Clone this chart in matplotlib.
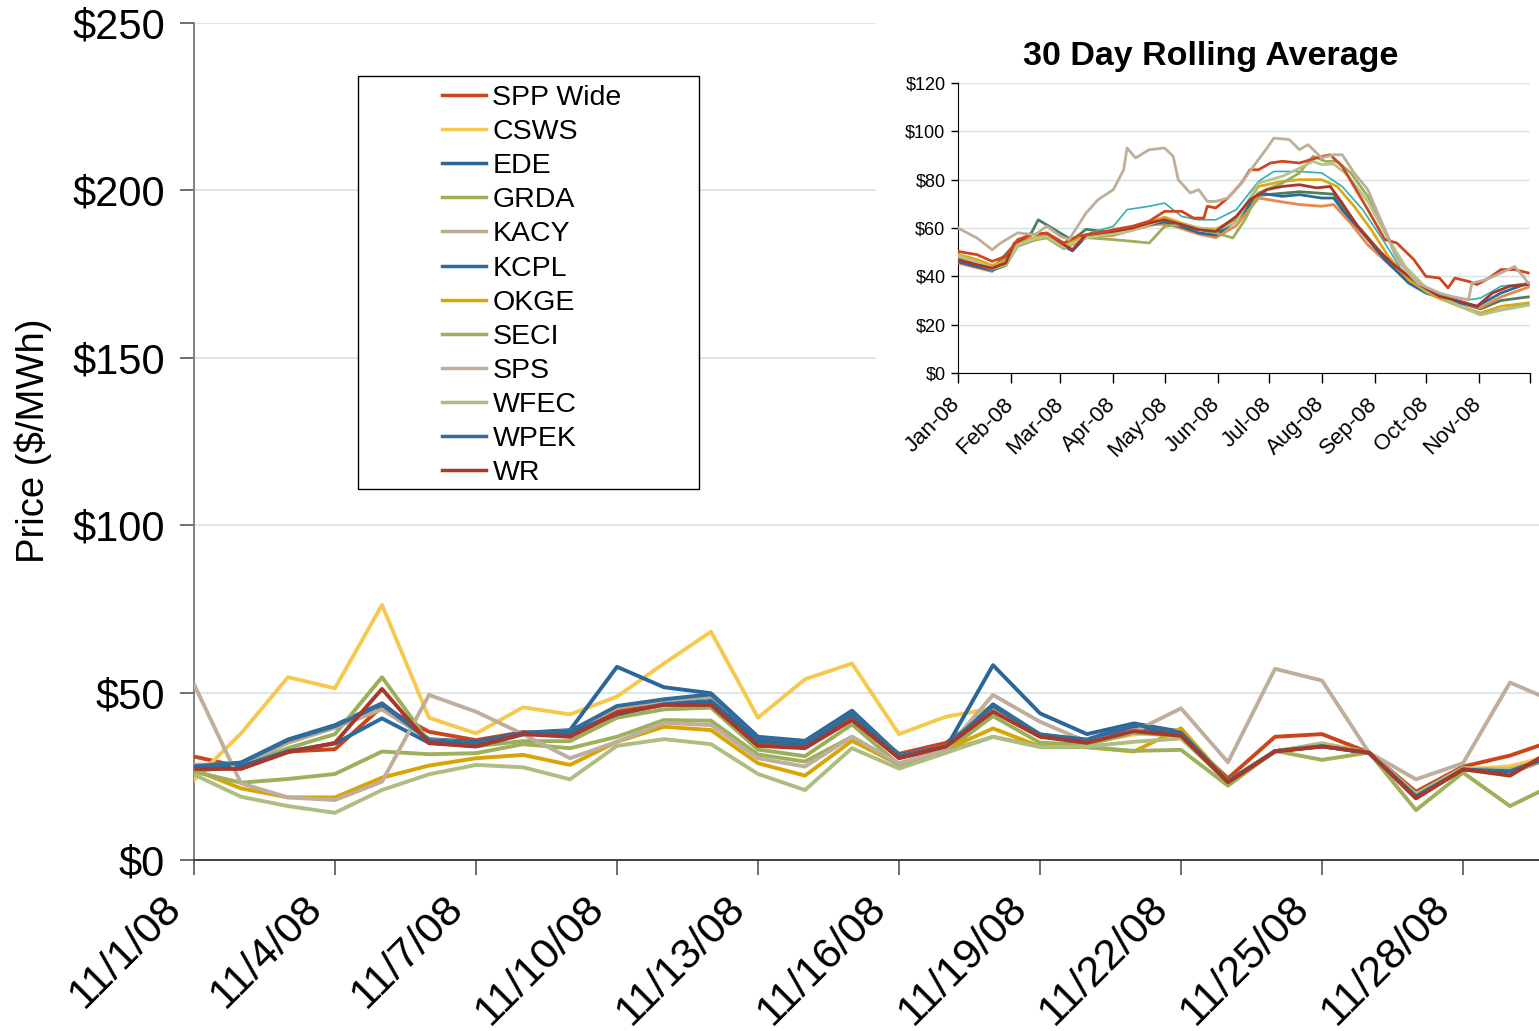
import matplotlib
matplotlib.use("Agg")
import matplotlib.pyplot as plt
from matplotlib.patches import Rectangle
from matplotlib.transforms import ScaledTranslation

plt.rcParams['font.family'] = ['Liberation Sans', 'DejaVu Sans']

# ---------------- main chart data (Nov 2008 daily prices, $/MWh) ----------------
dates = ['11/1/08', '11/2/08', '11/3/08', '11/4/08', '11/5/08', '11/6/08', '11/7/08',
         '11/8/08', '11/9/08', '11/10/08', '11/11/08', '11/12/08', '11/13/08', '11/14/08',
         '11/15/08', '11/16/08', '11/17/08', '11/18/08', '11/19/08', '11/20/08', '11/21/08',
         '11/22/08', '11/23/08', '11/24/08', '11/25/08', '11/26/08', '11/27/08', '11/28/08',
         '11/29/08', '11/30/08']

spp_wide = [30.9, 27.8, 32.4, 33.1, 45.8, 38.3, 35.8, 38.2, 37.1, 44.3, 47.3, 48.8, 34.6, 33.9, 42.3,
            31.7, 35.0, 45.0, 37.0, 35.5, 39.0, 37.5, 24.4, 36.8, 37.6, 32.1, 20.4, 27.9, 31.2, 36.0]
csws = [23.9, 37.8, 54.6, 51.3, 76.2, 42.5, 37.8, 45.6, 43.5, 48.8, 58.7, 68.2, 42.5, 54.0, 58.7,
        37.6, 42.8, 45.3, 37.5, 35.0, 37.5, 39.0, 23.5, 32.5, 34.0, 32.0, 19.0, 27.0, 28.0, 31.5]
ede = [28.1, 29.1, 36.0, 40.3, 46.8, 36.1, 35.3, 38.0, 38.8, 57.7, 51.6, 49.8, 36.8, 35.6, 44.6,
       31.4, 33.5, 58.2, 43.8, 37.6, 40.8, 38.3, 23.5, 32.5, 34.0, 32.0, 19.0, 27.0, 26.5, 31.5]
grda = [26.4, 28.2, 33.4, 37.6, 54.6, 35.3, 34.0, 35.5, 35.5, 42.5, 45.0, 45.5, 33.0, 31.0, 40.5,
        28.5, 32.5, 43.0, 35.0, 34.5, 38.0, 37.0, 23.0, 32.5, 34.5, 32.0, 18.5, 27.0, 26.5, 31.0]
kacy = [28.5, 28.5, 35.0, 39.5, 45.0, 36.0, 34.8, 37.8, 38.5, 45.5, 47.5, 48.8, 36.0, 35.0, 43.8,
        31.0, 34.0, 45.5, 37.5, 35.5, 39.5, 37.5, 23.5, 32.5, 34.0, 32.0, 19.0, 27.0, 26.0, 31.0]
kcpl = [27.5, 28.0, 32.5, 34.8, 42.3, 35.0, 34.0, 37.5, 38.0, 43.5, 46.5, 47.5, 35.5, 34.5, 43.5,
        30.5, 33.5, 46.5, 37.5, 35.5, 40.0, 37.5, 23.5, 32.5, 34.0, 32.0, 19.0, 27.0, 26.5, 31.5]
okge = [26.9, 21.4, 18.7, 18.7, 24.6, 28.2, 30.4, 31.4, 28.4, 35.3, 39.8, 38.8, 28.9, 25.2, 35.6,
        28.5, 33.0, 39.3, 33.9, 33.7, 32.4, 39.3, 23.5, 32.5, 34.5, 32.0, 19.5, 27.0, 27.0, 31.0]
seci = [26.4, 23.1, 24.2, 25.7, 32.4, 31.6, 31.9, 34.6, 33.4, 36.8, 41.8, 41.6, 31.5, 29.4, 36.8,
        28.5, 32.5, 36.8, 33.9, 33.7, 32.6, 32.9, 22.2, 32.6, 29.9, 32.1, 14.9, 26.1, 16.1, 23.0]
sps = [52.5, 22.9, 18.7, 17.9, 23.4, 49.3, 44.3, 37.6, 30.4, 35.3, 41.0, 40.3, 30.4, 27.9, 36.8,
       28.9, 33.0, 49.3, 41.3, 35.3, 38.3, 45.3, 29.2, 57.1, 53.6, 32.1, 24.1, 28.9, 53.0, 47.0]
wfec = [25.5, 18.9, 16.1, 14.1, 20.9, 25.6, 28.4, 27.7, 24.1, 34.1, 36.1, 34.6, 25.7, 20.9, 33.4,
        27.3, 32.0, 36.8, 33.7, 33.9, 35.3, 36.3, 23.5, 32.4, 34.9, 32.1, 19.7, 27.5, 26.9, 31.0]
wpek = [28.0, 29.0, 35.8, 40.0, 46.5, 35.8, 35.0, 38.0, 38.5, 46.0, 48.0, 49.5, 36.5, 35.3, 44.0,
        31.0, 34.0, 46.0, 37.5, 36.0, 40.5, 38.0, 23.5, 32.5, 34.0, 32.0, 19.0, 27.0, 26.5, 31.5]
wr = [27.2, 27.2, 32.2, 35.0, 51.1, 34.9, 33.9, 37.6, 36.8, 43.8, 46.3, 46.3, 34.1, 33.4, 41.8,
      30.4, 33.9, 44.3, 36.8, 35.0, 38.5, 37.1, 23.2, 32.4, 33.9, 32.1, 18.4, 27.1, 25.2, 33.6]

series_names = ['SPP Wide', 'CSWS', 'EDE', 'GRDA', 'KACY', 'KCPL', 'OKGE', 'SECI', 'SPS',
                'WFEC', 'WPEK', 'WR']
series_values = [spp_wide, csws, ede, grda, kacy, kcpl, okge, seci, sps, wfec, wpek, wr]
series_colors = ['#CC4419', '#F6C94E', '#2B6699', '#9AAF57', '#BCAA95', '#2D6A9C', '#D9A404',
                 '#9DB05C', '#BFAE9B', '#AEBE82', '#336B99', '#A9372A']

y_ticks = [0, 50, 100, 150, 200, 250]
y_tick_labels = ['$0', '$50', '$100', '$150', '$200', '$250']

# ---------------- inset data (30 day rolling average, 2008) ----------------
month_labels = ['Jan-08', 'Feb-08', 'Mar-08', 'Apr-08', 'May-08', 'Jun-08', 'Jul-08',
                'Aug-08', 'Sep-08', 'Oct-08', 'Nov-08', '']
month_starts = [0, 31, 60, 91, 121, 152, 182, 213, 244, 274, 305, 335]
in_y_ticks = [0, 20, 40, 60, 80, 100, 120]
in_y_labels = ['$0', '$20', '$40', '$60', '$80', '$100', '$120']

tan_d = [0, 11, 20, 25, 35, 45, 52, 60, 65, 75, 82, 91, 97, 99, 104, 112, 121, 126, 129, 136, 141,
         146, 151, 158, 166, 173, 181, 185, 194, 200, 205, 213, 220, 225, 232, 240, 250, 257, 269,
         282, 289, 299, 301, 309, 318, 326, 331, 334]
tan_v = [60.0, 55.9, 51.0, 53.8, 58.0, 57.2, 60.7, 56.6, 55.2, 66.2, 71.7, 75.9, 84.1, 93.1, 89.0,
         92.4, 93.1, 89.7, 80.0, 74.5, 75.9, 71.0, 71.0, 72.4, 78.6, 85.5, 93.1, 97.2, 96.6, 92.4,
         94.5, 89.0, 90.3, 90.3, 82.8, 75.9, 59.3, 46.9, 37.2, 33.1, 31.7, 30.3, 37.2, 38.6, 41.4,
         44.1, 40.0, 37.2]
red_d = [0, 11, 20, 28, 35, 43, 52, 62, 70, 82, 91, 102, 112, 121, 131, 138, 144, 146, 151, 158,
         166, 171, 176, 183, 190, 200, 210, 218, 225, 232, 240, 250, 257, 267, 274, 282, 287, 291,
         299, 304, 311, 318, 326, 334]
red_v = [50.3, 49.0, 46.2, 48.3, 55.2, 57.2, 57.9, 53.8, 56.6, 57.9, 59.3, 60.7, 62.8, 66.9, 66.9,
         64.1, 64.1, 69.0, 68.3, 72.4, 78.6, 84.1, 84.1, 86.9, 87.6, 86.9, 89.0, 90.3, 85.5, 77.2,
         67.6, 55.2, 53.8, 46.9, 40.0, 39.3, 35.2, 39.3, 37.9, 36.6, 39.3, 42.8, 42.8, 41.4]
teal_d = [0, 20, 35, 52, 65, 77, 91, 99, 112, 121, 131, 141, 151, 163, 176, 185, 200, 213, 225,
          237, 250, 262, 274, 286, 299, 306, 318, 334]
teal_v = [46.9, 42.8, 52.4, 56.6, 52.4, 57.9, 60.7, 67.6, 69.0, 70.3, 64.8, 63.4, 63.4, 67.6, 79.3,
          83.4, 83.4, 82.8, 77.2, 67.6, 53.8, 40.0, 33.1, 31.7, 30.3, 31.0, 35.9, 37.2]
dkred_d = [0, 11, 20, 28, 33, 43, 52, 62, 67, 75, 91, 102, 112, 121, 131, 141, 151, 163, 171, 181,
           190, 200, 210, 218, 225, 234, 244, 254, 269, 282, 294, 304, 313, 323, 334]
dkred_v = [46.9, 44.8, 43.4, 45.5, 53.8, 57.2, 57.9, 53.1, 51.0, 57.2, 58.6, 60.0, 62.1, 63.4, 61.4,
           59.3, 58.6, 64.8, 71.7, 75.9, 77.2, 77.9, 76.6, 77.2, 70.3, 60.7, 52.4, 45.5, 37.2, 31.7,
           29.7, 27.6, 33.1, 35.9, 36.6]
blue_d = [0, 11, 20, 28, 33, 43, 52, 62, 67, 75, 91, 102, 112, 121, 131, 141, 151, 163, 176, 190,
          200, 213, 220, 225, 237, 250, 264, 274, 289, 304, 318, 334]
blue_v = [46.0, 44.0, 42.5, 44.5, 52.5, 55.5, 56.5, 52.5, 50.5, 56.5, 57.5, 59.5, 61.5, 62.5, 60.5,
          58.0, 57.0, 63.0, 74.5, 73.1, 73.8, 72.4, 72.4, 67.6, 57.9, 46.9, 37.2, 33.1, 29.7, 27.6,
          33.1, 37.2]
orange_d = [0, 20, 33, 43, 52, 62, 75, 91, 112, 121, 141, 151, 163, 176, 188, 200, 213, 220, 230,
            240, 254, 269, 282, 294, 306, 318, 334]
orange_v = [45.5, 42.0, 52.0, 55.0, 56.0, 51.5, 56.0, 57.0, 61.0, 62.0, 57.5, 56.0, 61.0, 72.4,
            71.0, 69.7, 69.0, 69.7, 62.0, 53.0, 44.0, 36.0, 31.0, 29.0, 27.0, 31.5, 35.5]
gold_d = [0, 11, 20, 28, 35, 45, 52, 62, 75, 91, 102, 112, 121, 131, 141, 151, 163, 176, 190, 200,
          213, 222, 232, 242, 252, 264, 279, 294, 306, 318, 334]
gold_v = [49.0, 47.0, 44.5, 46.5, 54.0, 56.0, 57.0, 53.0, 56.5, 58.0, 60.0, 62.5, 64.5, 62.0, 60.0,
          59.5, 64.0, 77.2, 79.3, 80.0, 80.0, 77.2, 69.0, 59.3, 48.3, 38.6, 31.7, 27.6, 24.8, 27.6,
          29.0]
ltgreen_d = [0, 11, 20, 28, 35, 45, 52, 62, 75, 91, 102, 112, 121, 131, 141, 151, 163, 176, 190,
             200, 208, 213, 220, 228, 240, 250, 262, 276, 290, 306, 318, 334]
ltgreen_v = [48.5, 46.0, 43.5, 45.0, 53.0, 55.5, 56.5, 52.0, 56.0, 57.5, 59.0, 61.5, 63.5, 61.5,
             60.0, 59.0, 62.5, 78.6, 81.4, 84.8, 87.6, 86.2, 86.5, 82.0, 71.0, 58.0, 44.0, 34.0,
             29.0, 24.0, 26.0, 28.0]
olive_d = [0, 11, 20, 28, 35, 45, 52, 62, 75, 91, 102, 112, 121, 131, 151, 161, 168, 176, 190, 200,
           208, 215, 222, 230, 240, 250, 259, 274, 289, 306, 318, 334]
olive_v = [48.0, 45.5, 43.0, 44.5, 52.5, 55.0, 56.0, 51.5, 56.0, 55.2, 54.5, 53.8, 60.7, 61.4, 57.9,
           55.9, 63.4, 74.5, 78.6, 82.8, 89.7, 87.6, 87.6, 82.8, 73.1, 59.3, 45.5, 34.5, 29.0, 24.1,
           26.2, 28.3]
dkgreen_d = [0, 20, 33, 43, 47, 55, 62, 67, 75, 91, 112, 131, 151, 163, 176, 200, 220, 234, 250,
             269, 289, 306, 318, 334]
dkgreen_v = [47.5, 43.0, 53.0, 58.0, 63.4, 60.0, 57.0, 55.0, 59.5, 58.0, 62.0, 61.0, 58.0, 63.0,
             73.5, 75.0, 74.0, 61.0, 48.0, 37.0, 30.0, 26.5, 30.0, 31.5]

inset_series = [
    (dkgreen_d, dkgreen_v, '#4F7E5A', 2.0),
    (orange_d, orange_v, '#E5894C', 2.0),
    (blue_d, blue_v, '#2D6A9A', 2.0),
    (teal_d, teal_v, '#35AEB0', 1.2),
    (gold_d, gold_v, '#DDA81A', 2.0),
    (olive_d, olive_v, '#9CB05A', 2.0),
    (ltgreen_d, ltgreen_v, '#B4C48A', 2.0),
    (dkred_d, dkred_v, '#A8362A', 2.0),
    (red_d, red_v, '#D2461E', 2.0),
    (tan_d, tan_v, '#BFAE99', 2.0),
]

# ---------------- layout helpers ----------------
W, H = 1539, 1031
def fx(px):
    return px / W
def fy(py):
    return 1 - py / H

fig = plt.figure(figsize=(W / 100, H / 100), dpi=100)
fig.patch.set_facecolor('white')

GRID = '#D6E3E3'

# ---------------- main axes ----------------
ax = fig.add_axes([fx(194), fy(860), fx(1539) - fx(194), fy(23) - fy(860)], zorder=0)
x = list(range(len(dates)))
for name, vals, col in zip(series_names, series_values, series_colors):
    ax.plot(x, vals, color=col, lw=2.8, label=name, solid_joinstyle='round', zorder=3)

ax.set_xlim(0, (1539 - 194) / 47.0)
ax.set_ylim(0, 250)
ax.set_yticks(y_ticks)
ax.set_yticklabels(y_tick_labels)
ax.set_xticks(x[::3])
ax.set_xticklabels(dates[::3])
for spine in ['top', 'right']:
    ax.spines[spine].set_visible(False)
ax.spines['left'].set_color('#777777')
ax.spines['left'].set_linewidth(1.3)
ax.spines['bottom'].set_color('#333333')
ax.spines['bottom'].set_linewidth(1.3)
ax.yaxis.grid(True, color=GRID, lw=1.2)
ax.set_axisbelow(True)
ax.tick_params(axis='y', direction='out', length=10, width=1.2, color='#555555',
               labelsize=30, pad=11)
ax.tick_params(axis='x', direction='out', length=11, width=1.2, color='#555555',
               labelsize=31, pad=4)
main_off = ScaledTranslation(-33 / 100, -7 / 100, fig.dpi_scale_trans)
for lab in ax.get_xticklabels():
    lab.set_rotation(45)
    lab.set_ha('right')
    lab.set_va('top')
    lab.set_rotation_mode('anchor')
    lab.set_transform(lab.get_transform() + main_off)

fig.text(fx(33), fy(441), 'Price ($/MWh)', rotation=90, ha='center', va='center', fontsize=27.5)

# legend with manual frame
ax.add_patch(Rectangle((fx(358), fy(489)), fx(699) - fx(358), fy(76) - fy(489),
                       transform=fig.transFigure, facecolor='white', edgecolor='black',
                       lw=1.0, zorder=4, clip_on=False))
leg = ax.legend(loc='upper left', bbox_to_anchor=(fx(442), fy(85)),
                bbox_transform=fig.transFigure, frameon=False, fontsize=20.5,
                handlelength=1.55, handletextpad=0.22, labelspacing=0.285, borderpad=0,
                borderaxespad=0)
leg.set_zorder(5)
for ln in leg.get_lines():
    ln.set_linewidth(2.5)

# ---------------- inset ----------------
fig.add_artist(Rectangle((fx(876), fy(478)), fx(1539) - fx(876), fy(0) - fy(478),
                         transform=fig.transFigure, facecolor='white', edgecolor='none',
                         zorder=1))
axin = fig.add_axes([fx(958), fy(373), fx(1530) - fx(958), fy(83) - fy(373)], zorder=2)
for d, v, col, lw in inset_series:
    axin.plot(d, v, color=col, lw=lw, zorder=3)
axin.set_xlim(0, 335)
axin.set_ylim(0, 120)
axin.set_yticks(in_y_ticks)
axin.set_yticklabels(in_y_labels)
axin.set_xticks(month_starts)
axin.set_xticklabels(month_labels)
for spine in ['top', 'right']:
    axin.spines[spine].set_visible(False)
axin.spines['left'].set_color('black')
axin.spines['bottom'].set_color('black')
axin.yaxis.grid(True, color=GRID, lw=1.0)
axin.set_axisbelow(True)
axin.tick_params(axis='y', direction='out', length=5, width=1, labelsize=13, pad=4)
axin.tick_params(axis='x', direction='out', length=7, width=1, labelsize=16, pad=2)
in_off = ScaledTranslation(-8 / 100, -8 / 100, fig.dpi_scale_trans)
for lab in axin.get_xticklabels():
    lab.set_rotation(45)
    lab.set_ha('right')
    lab.set_va('top')
    lab.set_rotation_mode('anchor')
    lab.set_transform(lab.get_transform() + in_off)

fig.text(fx(1211), fy(56), '30 Day Rolling Average', ha='center', va='center',
         fontsize=24.5, fontweight='bold')

fig.savefig('out.png', dpi=100)
